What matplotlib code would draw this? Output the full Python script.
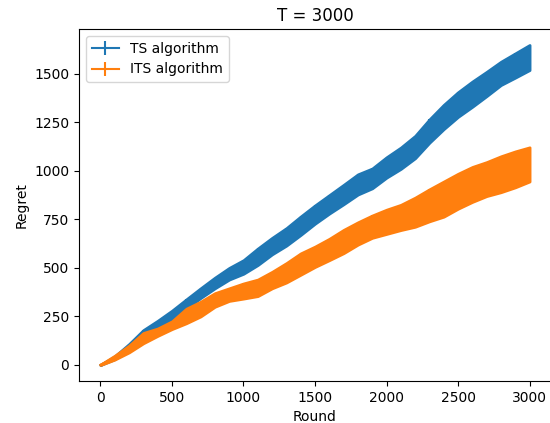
import numpy as np
import matplotlib
matplotlib.use("Agg")
import matplotlib.pyplot as plt

rounds = [0, 100, 200, 300, 400, 500, 600, 700, 800, 900, 1000,
          1100, 1200, 1300, 1400, 1500, 1600, 1700, 1800, 1900, 2000,
          2100, 2200, 2300, 2400, 2500, 2600, 2700, 2800, 2900, 3000]

# TS algorithm: upper / lower edge of the error band
ts_hi = [0, 45, 108, 180, 228, 280, 338, 395, 450, 500, 540,
         600, 655, 705, 765, 822, 875, 928, 982, 1012, 1070,
         1120, 1180, 1265, 1340, 1405, 1460, 1510, 1562, 1605, 1648]
ts_lo = [0, 30, 85, 145, 185, 235, 290, 345, 395, 440, 470,
         515, 570, 615, 670, 728, 780, 828, 878, 910, 965,
         1010, 1065, 1145, 1215, 1278, 1330, 1385, 1442, 1480, 1519]

# ITS algorithm: upper / lower edge of the error band
its_hi = [2, 48, 100, 165, 188, 225, 290, 326, 370, 395, 420,
          440, 480, 525, 575, 610, 650, 696, 735, 770, 800,
          825, 862, 905, 945, 985, 1020, 1045, 1075, 1100, 1121]
its_lo = [0, 28, 65, 112, 150, 185, 215, 250, 300, 330, 342,
          355, 395, 425, 465, 505, 540, 576, 620, 655, 675,
          695, 712, 740, 764, 805, 840, 870, 890, 915, 945]

series = [
    ("TS algorithm", ts_hi, ts_lo, "#1f77b4"),
    ("ITS algorithm", its_hi, its_lo, "#ff7f0e"),
]

fig = plt.figure(figsize=(5.5, 4.23), dpi=100)
ax = fig.add_axes([79 / 550, 1 - 381 / 423, 472 / 550, 352 / 423])
# the reference image is cut at the right spine
ax.spines["right"].set_visible(False)

x = np.array(rounds)
for i, (label, hi, lo, color) in enumerate(series):
    hi = np.array(hi, dtype=float)
    lo = np.array(lo, dtype=float)
    mean = (hi + lo) / 2
    err = (hi - lo) / 2
    ax.errorbar(x, mean, yerr=err, color=color, label=label, zorder=2 + 2 * i)
    ax.fill_between(x, lo, hi, color=color, linewidth=2, edgecolor=color,
                    zorder=3 + 2 * i)

ax.set_title("T = 3000")
ax.set_xlabel("Round")
ax.set_ylabel("Regret")
ax.set_xticks([0, 500, 1000, 1500, 2000, 2500, 3000])
ax.set_yticks([0, 250, 500, 750, 1000, 1250, 1500])
ax.legend(loc="upper left")

fig.savefig("out.png", dpi=100)
